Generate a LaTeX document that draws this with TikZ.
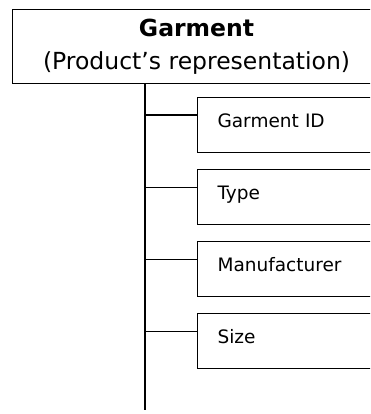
\documentclass[tikz,border=0pt]{standalone}
\usepackage{fontspec}
\setmainfont{DejaVu Sans}
\usetikzlibrary{positioning}

\begin{document}
\begin{tikzpicture}[x=1pt,y=1pt,line width=1.1pt,
    title node/.style={rectangle,draw,align=center,minimum width=368pt,minimum height=74pt,inner sep=0pt,font=\fontsize{23.5}{33}\selectfont},
    attr node/.style={rectangle,draw,inner xsep=20pt,inner ysep=0pt,text width=160pt,text height=29.5pt,text depth=25.5pt,align=left,font=\fontsize{18.5}{22}\selectfont}]
\useasboundingbox (0,0) rectangle (370,414);
\clip (0,0) rectangle (370,414);
\node[title node,anchor=north west] (garment) at (12,405) {\textbf{Garment}\\(Product’s representation)};
\node[attr node,anchor=north west] (id) at (197,317) {Garment ID};
\node[attr node,below=16pt of id] (type) {Type};
\node[attr node,below=16pt of type] (maker) {Manufacturer};
\node[attr node,below=16pt of maker] (size) {Size};
% trunk down from the garment box
\coordinate (trunk) at (145,4);
\draw (garment.south -| trunk) -- (trunk);
\foreach \n in {id,type,maker,size}
  \draw ([yshift=-18pt]\n.north west) -- ([yshift=-18pt]\n.north west -| trunk);
\end{tikzpicture}
\end{document}
